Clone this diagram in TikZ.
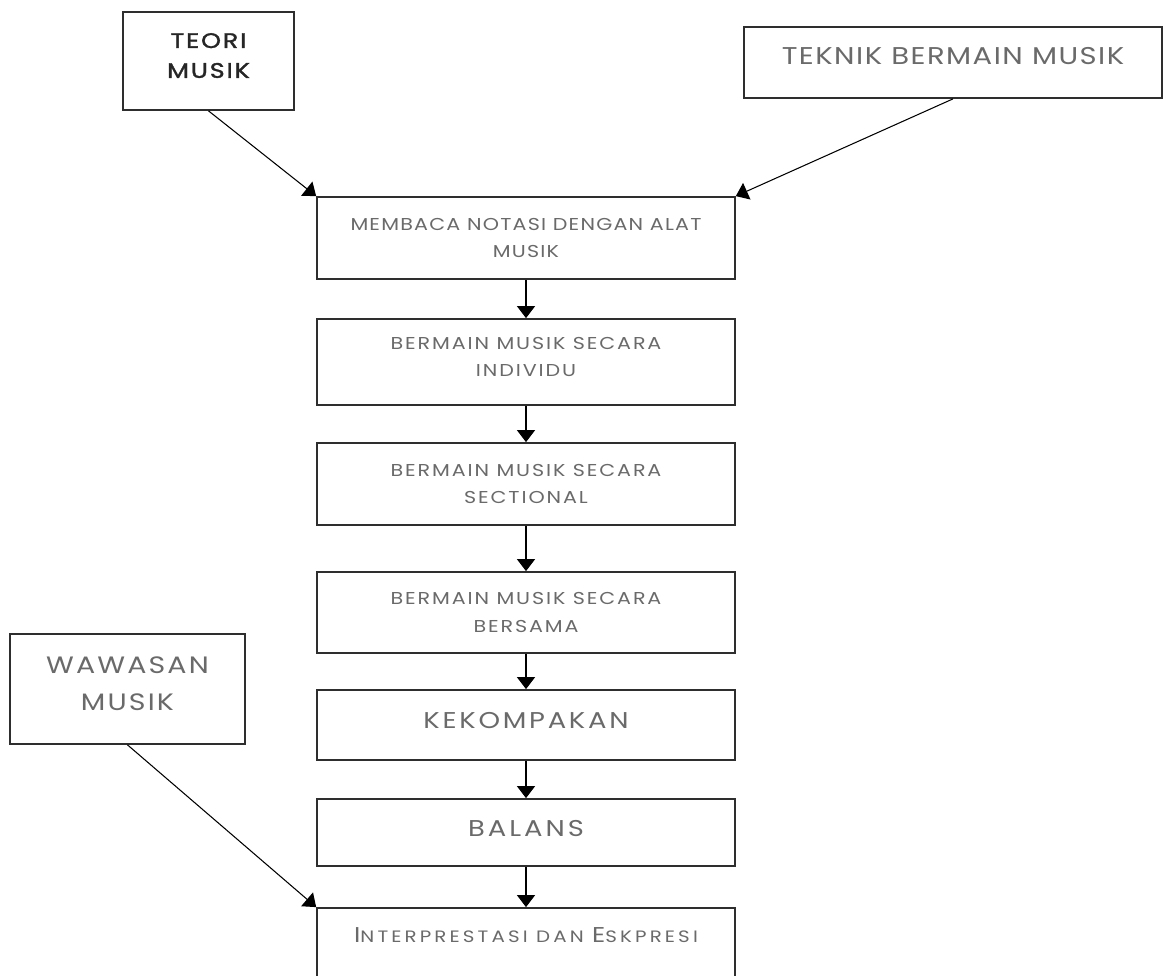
\documentclass[tikz,border=0pt]{standalone}
\usepackage{fontspec}
\setmainfont{Poppins}[FakeStretch=1.2]
\usetikzlibrary{arrows.meta,positioning}
\definecolor{labelgray}{HTML}{6A6A6A}
\definecolor{framegray}{HTML}{2E2E2E}
\newcommand{\fsz}[2]{\fontsize{#1}{#2}\selectfont}
\newcommand{\spaced}[1]{\addfontfeatures{LetterSpace=#1}}

\begin{document}
\begin{tikzpicture}[x=0.02cm,y=-0.02cm,
  box/.style={draw=framegray,line width=1pt,text=labelgray,align=center,inner sep=0pt},
  stage/.style={box,minimum width=8.36cm},
  link/.style={line width=0.6pt,-{Triangle[width=0.36cm,length=0.24cm]}}]
\useasboundingbox (0,0) rectangle (1169,976);
% sources
\node[box,text=black!85,minimum width=3.42cm,minimum height=1.96cm,text depth=0.22cm,font=\fsz{12}{17}\spaced{9}\addfontfeatures{FakeBold=1.6}] (teori) at (208.5,61) {TEORI\\MUSIK};
\node[box,minimum width=8.36cm,minimum height=1.42cm,text depth=0.28cm,font=\fsz{13.8}{16}\spaced{6}] (teknik) at (953,62.5) {TEKNIK BERMAIN MUSIK};
\node[box,minimum width=4.70cm,minimum height=2.20cm,text depth=0.22cm,font=\fsz{13.5}{21}\spaced{9}] (wawasan) at (127.5,689) {WAWASAN\\MUSIK};
% main column
\node[stage,minimum height=1.64cm,font=\fsz{9.8}{15.6}\spaced{7}] (baca) at (526,238) {MEMBACA NOTASI DENGAN ALAT\\MUSIK};
\node[stage,minimum height=1.72cm,text depth=0.2cm,font=\fsz{9.8}{15.4}\spaced{11}] (individu) at (526,362) {BERMAIN MUSIK SECARA\\INDIVIDU};
\node[stage,minimum height=1.64cm,font=\fsz{9.8}{15.4}\spaced{11}] (sectional) at (526,484) {BERMAIN MUSIK SECARA\\SECTIONAL};
\node[stage,minimum height=1.62cm,font=\fsz{9.8}{15.4}\spaced{11}] (bersama) at (526,612.5) {BERMAIN MUSIK SECARA\\BERSAMA};
\node[stage,minimum height=1.40cm,text depth=0.2cm,font=\fsz{13}{15}\spaced{12}] (kompak) at (526,725) {KEKOMPAKAN};
\node[stage,minimum height=1.34cm,text depth=0.18cm,font=\fsz{13}{15}\spaced{13}] (balans) at (526,832.5) {BALANS};
\node[stage,minimum height=1.64cm,text depth=0.56cm,font=\spaced{19}] (ekspresi) at (526,949)
  {\fsz{12.2}{14}I\fsz{9.4}{14}NTERPRESTASI DAN \fsz{12.2}{14}E\fsz{9.4}{14}SKPRESI};
% arrows
\draw[link] (teori.south) -- (baca.north west);
\draw[link] (teknik.south) -- (baca.north east);
\draw[link] (wawasan.south) -- (ekspresi.north west);
\draw[link] (baca) -- (individu);
\draw[link] (individu) -- (sectional);
\draw[link] (sectional) -- (bersama);
\draw[link] (bersama) -- (kompak);
\draw[link] (kompak) -- (balans);
\draw[link] (balans) -- (ekspresi);
\end{tikzpicture}
\end{document}
